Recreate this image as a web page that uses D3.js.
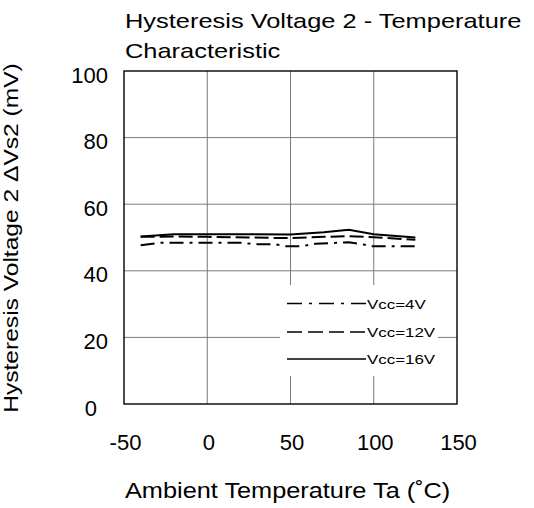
<!DOCTYPE html>
<html>
<head>
<meta charset="utf-8">
<script src="https://cdn.jsdelivr.net/npm/d3@7"></script>
<style>
  html, body { margin: 0; padding: 0; background: #fff; }
  svg { display: block; }
  text { font-family: "Liberation Sans", Arial, sans-serif; fill: #000; }
</style>
</head>
<body>
<svg id="chart" width="534" height="508"></svg>
<script>
// ---- data ----
const titleLines = ["Hysteresis Voltage 2 - Temperature", "Characteristic"];
const xLabel = "Ambient Temperature Ta (\u02DAC)";
const yLabel = "Hysteresis Voltage 2 \u0394Vs2 (mV)";
const xTicks = [-50, 0, 50, 100, 150];
const yTicks = [0, 20, 40, 60, 80, 100];
const seriesNames = ["Vcc=4V", "Vcc=12V", "Vcc=16V"];
const temp4V  = [-40, -28, 20, 30, 40, 47, 57, 65, 85, 93, 98, 125];
const vs4V    = [47.7, 48.4, 48.4, 48.0, 48.0, 47.4, 47.4, 48.1, 48.6, 48.0, 47.4, 47.4];
const temp12V = [-40, -20, 0, 25, 50, 70, 85, 100, 125];
const vs12V   = [50.2, 50.3, 50.2, 50.0, 49.8, 50.2, 50.4, 50.1, 49.3];
const temp16V = [-40, -20, 0, 25, 50, 70, 85, 100, 125];
const vs16V   = [50.3, 51.0, 51.0, 51.0, 50.9, 51.6, 52.3, 51.0, 50.0];

const series = [
  {name: seriesNames[0], t: temp4V,  v: vs4V,  dash: "14,6,3,6", legDash: "15,7,3,7"},
  {name: seriesNames[1], t: temp12V, v: vs12V, dash: "14,5",     legDash: "15,6"},
  {name: seriesNames[2], t: temp16V, v: vs16V, dash: null,       legDash: null}
];

// ---- layout ----
const svg = d3.select("#chart");
const L = 124, R = 457, T = 71, B = 404;
const x = d3.scaleLinear().domain([-50, 150]).range([L, R]);
const y = d3.scaleLinear().domain([0, 100]).range([B, T]);

function stretch(sel, k) {
  sel.each(function() {
    const w = this.getComputedTextLength();
    d3.select(this).attr("textLength", w * k).attr("lengthAdjust", "spacingAndGlyphs");
  });
}

// grid
const grid = svg.append("g");
grid.selectAll("line.v").data(xTicks.slice(1, -1)).join("line")
  .attr("x1", d => x(d)).attr("x2", d => x(d)).attr("y1", T).attr("y2", B)
  .attr("stroke", "#7a7a7a").attr("stroke-width", 1);
grid.selectAll("line.h").data(yTicks.slice(1, -1)).join("line")
  .attr("x1", L).attr("x2", R).attr("y1", d => y(d)).attr("y2", d => y(d))
  .attr("stroke", "#7a7a7a").attr("stroke-width", 1);

// legend background (covers grid)
const legend = svg.append("g");
legend.append("rect").attr("x", 280).attr("y", 285).attr("width", 158).attr("height", 91)
  .attr("fill", "#fff");

// frame
svg.append("rect").attr("x", L).attr("y", T).attr("width", R - L).attr("height", B - T)
  .attr("fill", "none").attr("stroke", "#000").attr("stroke-width", 1.4);

// axes labels via d3 axes
const fmt = d => String(d);
const xAxis = svg.append("g").attr("transform", `translate(1,${B})`)
  .call(d3.axisBottom(x).tickValues(xTicks).tickSize(0).tickPadding(0).tickFormat(fmt));
xAxis.select(".domain").remove();
xAxis.selectAll("text").attr("font-size", 22).attr("font-family", "Liberation Sans, Arial, sans-serif")
  .attr("y", 46).attr("dy", 0).attr("fill", "#000");

const yAxis = svg.append("g").attr("transform", `translate(108,0)`)
  .call(d3.axisLeft(y).tickValues(yTicks).tickSize(0).tickPadding(0).tickFormat(fmt));
yAxis.select(".domain").remove();
yAxis.selectAll("text").attr("font-size", 22).attr("font-family", "Liberation Sans, Arial, sans-serif")
  .attr("dy", 11).attr("x", d => d === 0 ? -11 : 0).attr("fill", "#000");

// data lines
const line = d3.line().x(d => x(d[0])).y(d => y(d[1]));
series.forEach(s => {
  const pts = s.t.map((t, i) => [t, s.v[i]]);
  svg.append("path").attr("d", line(pts)).attr("fill", "none")
    .attr("stroke", "#000").attr("stroke-width", 2)
    .attr("stroke-dasharray", s.dash);
});

// legend entries
const legY = [303.5, 332, 359];
series.forEach((s, i) => {
  legend.append("line").attr("x1", 287).attr("x2", 366).attr("y1", legY[i]).attr("y2", legY[i])
    .attr("stroke", "#000").attr("stroke-width", 1.3).attr("stroke-dasharray", s.legDash);
  legend.append("text").attr("x", 367).attr("y", legY[i] + 5).attr("font-size", 13)
    .text(s.name).call(stretch, 1.3);
});

// title
svg.append("text").attr("x", 125).attr("y", 28).attr("font-size", 21).text(titleLines[0]).call(stretch, 1.21);
svg.append("text").attr("x", 125).attr("y", 58).attr("font-size", 21).text(titleLines[1]).call(stretch, 1.21);

// axis titles
svg.append("text").attr("x", 125).attr("y", 498).attr("font-size", 22).text(xLabel).call(stretch, 1.15);
svg.append("text").attr("transform", "translate(18,238) rotate(-90)").attr("text-anchor", "middle")
  .attr("font-size", 21).text(yLabel).call(stretch, 1.17);
</script>
</body>
</html>
